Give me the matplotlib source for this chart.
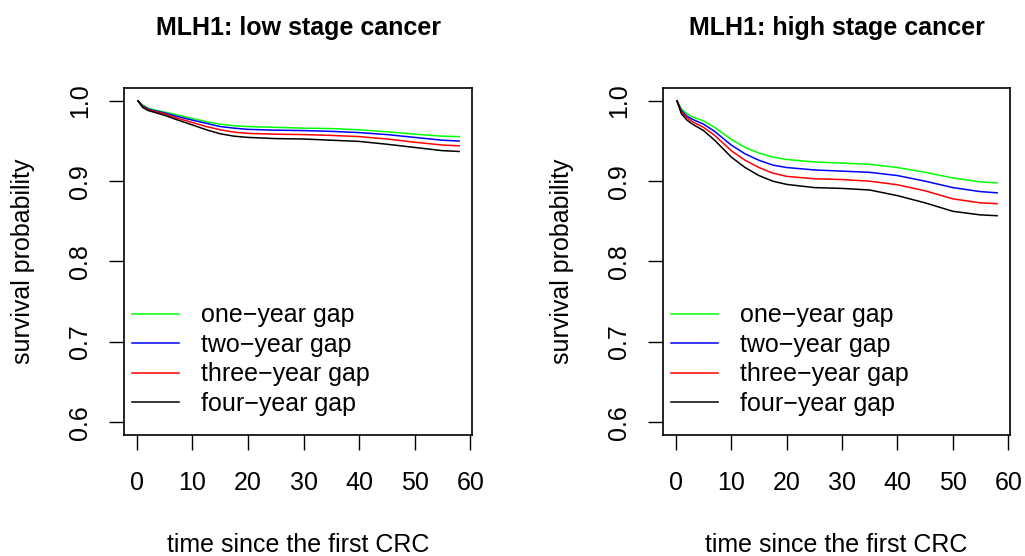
import numpy as np
import matplotlib
matplotlib.use("Agg")
import matplotlib.pyplot as plt

plt.rcParams["font.family"] = ["Liberation Sans", "DejaVu Sans"]

# time since the first CRC
t = [0.2, 1, 2, 3, 5, 7, 10, 12.5, 15, 17.5, 20, 25, 30, 35, 40, 45, 50, 55, 58]

# low stage cancer
low_one = [1.0, 0.995, 0.991, 0.989, 0.986, 0.983, 0.978, 0.974, 0.971, 0.969, 0.968,
           0.967, 0.966, 0.9655, 0.964, 0.9615, 0.9585, 0.956, 0.9555]
low_two = [1.0, 0.994, 0.990, 0.988, 0.985, 0.981, 0.976, 0.972, 0.968, 0.966, 0.9645,
           0.9635, 0.963, 0.962, 0.9605, 0.958, 0.9545, 0.951, 0.950]
low_three = [1.0, 0.993, 0.989, 0.987, 0.984, 0.979, 0.973, 0.968, 0.964, 0.961, 0.9595,
             0.9585, 0.958, 0.957, 0.9555, 0.9525, 0.9485, 0.945, 0.944]
low_four = [1.0, 0.992, 0.988, 0.986, 0.982, 0.977, 0.970, 0.964, 0.959, 0.956, 0.9545,
            0.953, 0.9525, 0.951, 0.9495, 0.946, 0.942, 0.938, 0.937]

# high stage cancer
high_one = [1.0, 0.990, 0.984, 0.980, 0.975, 0.967, 0.952, 0.942, 0.935, 0.930, 0.927,
            0.924, 0.9225, 0.921, 0.917, 0.911, 0.904, 0.899, 0.898]
high_two = [1.0, 0.988, 0.981, 0.977, 0.971, 0.962, 0.945, 0.934, 0.926, 0.920, 0.917,
            0.914, 0.9125, 0.911, 0.907, 0.900, 0.892, 0.887, 0.8855]
high_three = [1.0, 0.986, 0.979, 0.974, 0.967, 0.957, 0.938, 0.926, 0.917, 0.910, 0.906,
              0.903, 0.902, 0.900, 0.8955, 0.888, 0.878, 0.873, 0.872]
high_four = [1.0, 0.984, 0.976, 0.971, 0.963, 0.951, 0.930, 0.917, 0.907, 0.900, 0.896,
             0.892, 0.891, 0.889, 0.882, 0.873, 0.8625, 0.858, 0.857]

labels = ["one\u2212year gap", "two\u2212year gap", "three\u2212year gap", "four\u2212year gap"]
colors = ["#00FF00", "#0000FF", "#FF0000", "#000000"]

fig = plt.figure(figsize=(10.25, 5.56), dpi=100)
ax1 = fig.add_axes([124 / 1025, 121 / 556, 348 / 1025, 347 / 556])
ax2 = fig.add_axes([663 / 1025, 121 / 556, 347 / 1025, 347 / 556])

panels = [
    (ax1, "MLH1: low stage cancer", [low_one, low_two, low_three, low_four]),
    (ax2, "MLH1: high stage cancer", [high_one, high_two, high_three, high_four]),
]

fs = 18
for ax, title, series in panels:
    for y, c, lab in zip(series, colors, labels):
        ax.plot(t, y, color=c, lw=1.1, label=lab)
    ax.set_xlim(-2.32, 60.32)
    ax.set_ylim(0.584, 1.016)
    ax.set_xticks([0, 10, 20, 30, 40, 50, 60])
    ax.set_yticks([0.6, 0.7, 0.8, 0.9, 1.0])
    ax.set_yticklabels(["0.6", "0.7", "0.8", "0.9", "1.0"], rotation=90, va="center")
    ax.tick_params(direction="out", length=11, width=1.0, labelsize=fs)
    ax.tick_params(axis="x", pad=15)
    ax.tick_params(axis="y", pad=12)
    for s in ax.spines.values():
        s.set_linewidth(1.2)
    ax.set_title(title, fontsize=fs, fontweight="bold", pad=38)
    ax.set_xlabel("time since the first CRC", fontsize=fs, labelpad=27)
    ax.set_ylabel("survival probability", fontsize=fs, labelpad=24)
    ax.legend(loc="lower left", bbox_to_anchor=(0.022, 0.055), frameon=False,
              fontsize=fs, handlelength=1.88, handletextpad=0.9, labelspacing=0.22,
              borderpad=0, borderaxespad=0)

fig.savefig("out.png", dpi=100)
